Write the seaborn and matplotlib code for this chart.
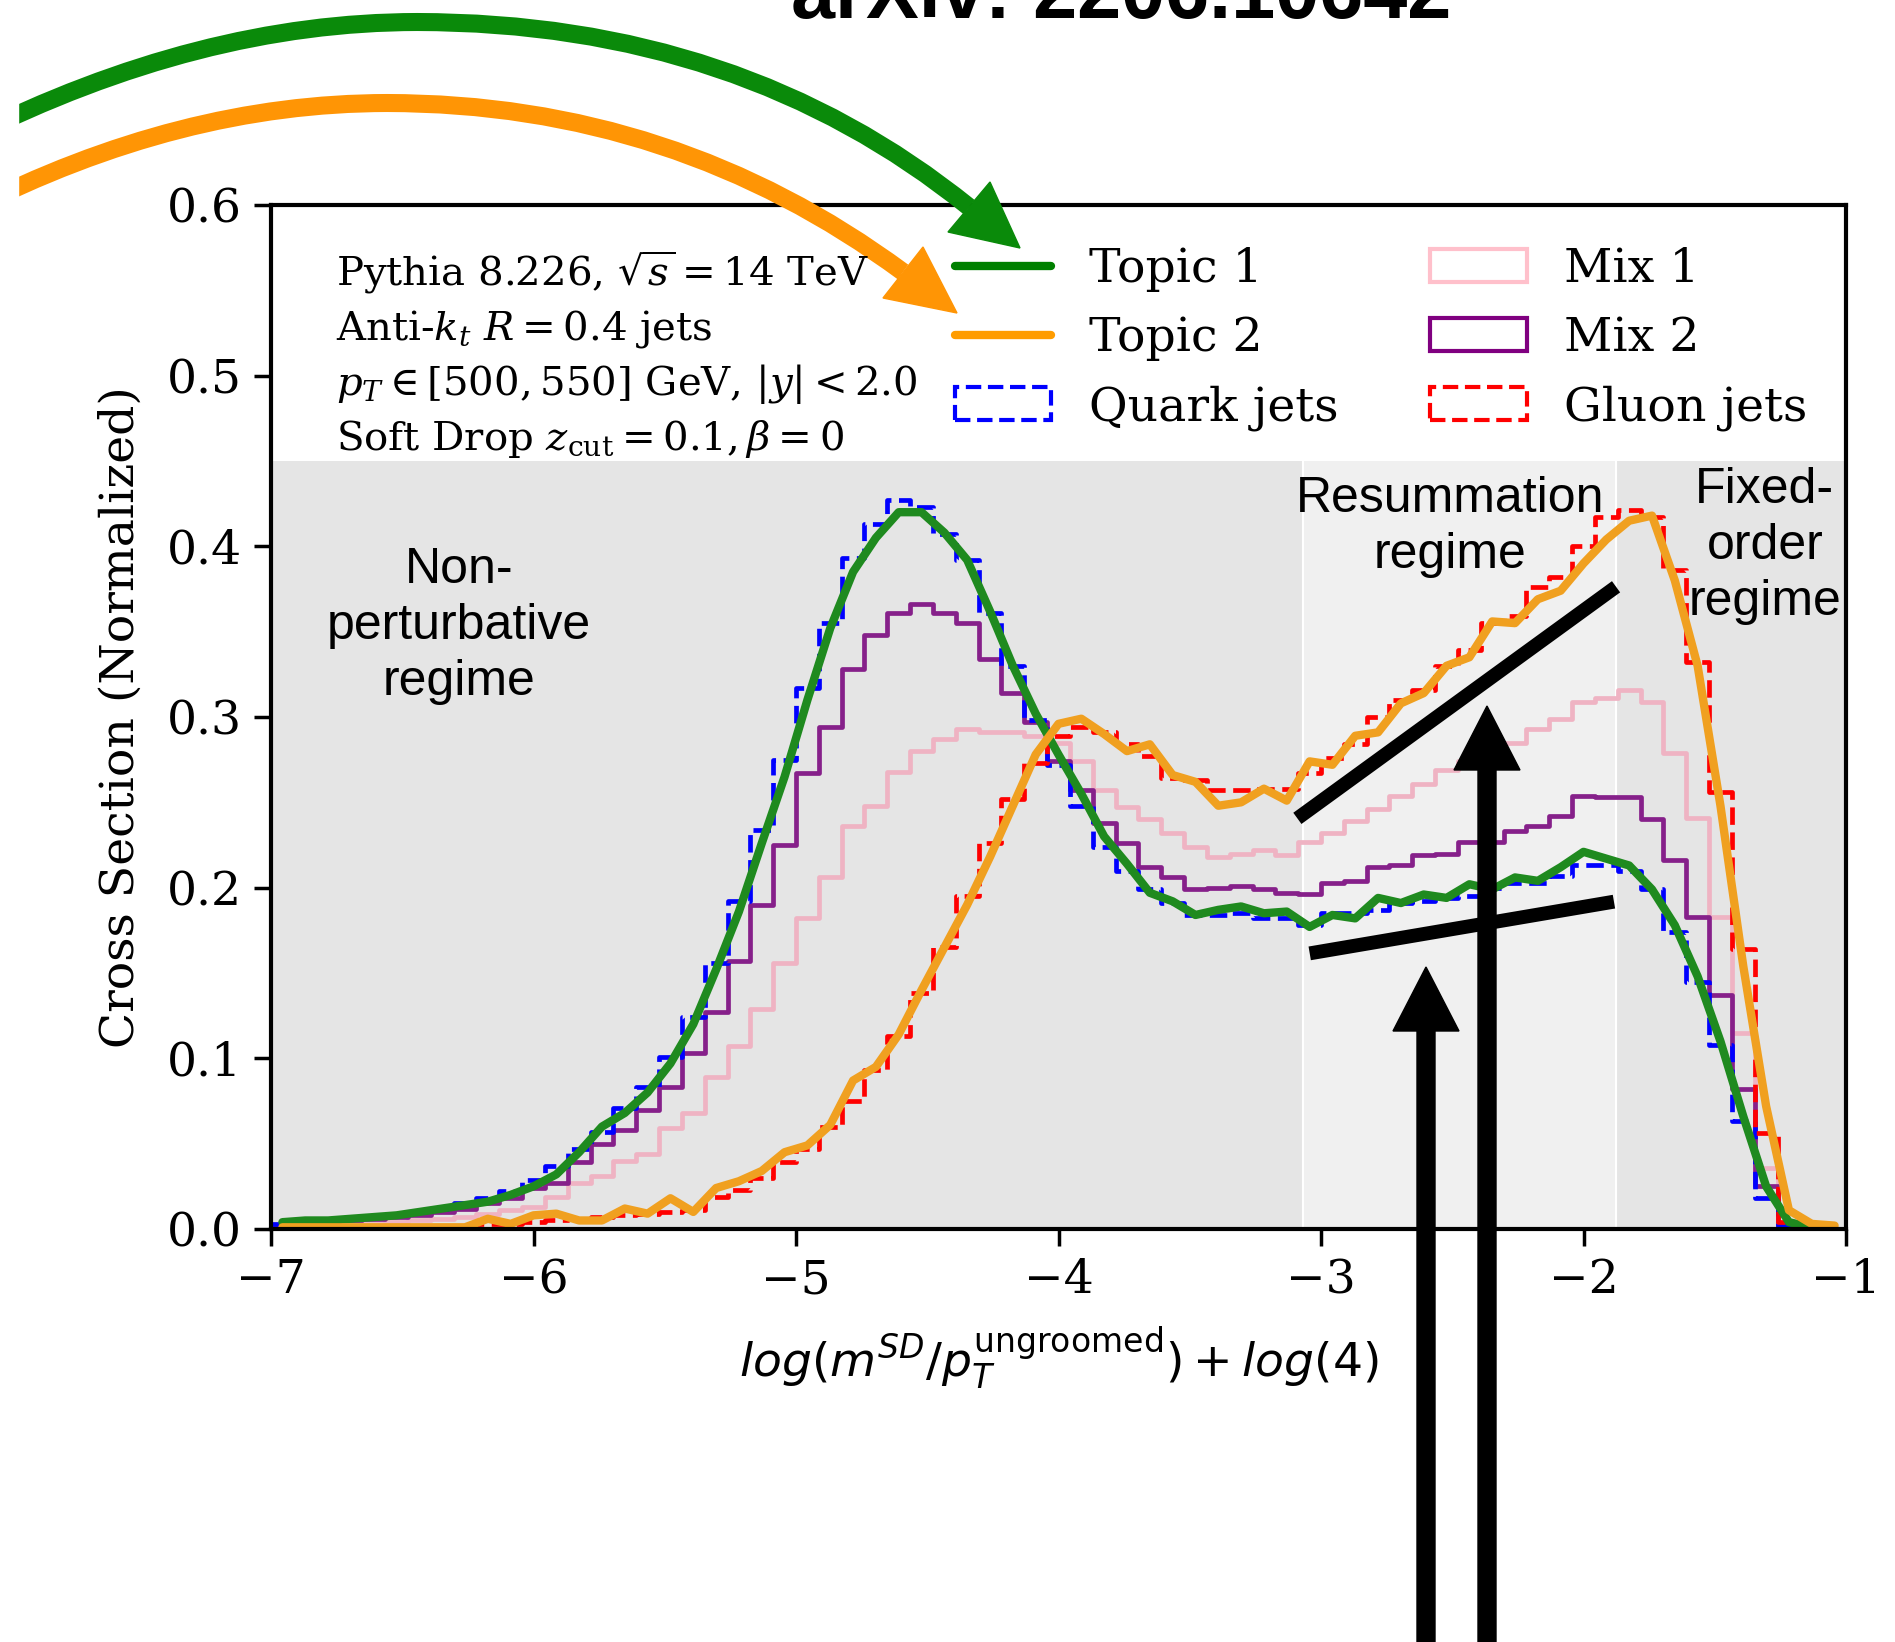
import numpy as np
import pandas as pd
import matplotlib
matplotlib.use('Agg')
import matplotlib.pyplot as plt
import seaborn as sns
from matplotlib.transforms import Affine2D
from matplotlib.path import Path
from matplotlib.patches import PathPatch, Polygon, Patch, Rectangle
from matplotlib.lines import Line2D

# bin edges of the histograms (69 bins between -7 and -1)
edges = np.linspace(-7, -1, 70)
centers = 0.5 * (edges[1:] + edges[:-1])

quark = [0.003, 0.004, 0.005, 0.006, 0.007, 0.008, 0.010, 0.012, 0.015, 0.018,
         0.022, 0.029, 0.037, 0.047, 0.057, 0.071, 0.083, 0.101, 0.124, 0.156,
         0.192, 0.234, 0.275, 0.317, 0.355, 0.393, 0.413, 0.427, 0.423, 0.407,
         0.392, 0.361, 0.330, 0.298, 0.272, 0.248, 0.224, 0.210, 0.199, 0.191,
         0.184, 0.184, 0.185, 0.182, 0.182, 0.178, 0.185, 0.185, 0.187, 0.191,
         0.192, 0.194, 0.195, 0.200, 0.203, 0.203, 0.207, 0.213, 0.213, 0.210,
         0.199, 0.174, 0.145, 0.108, 0.063, 0.018, 0.002, 0.0, 0.0]

gluon = [0.000, 0.000, 0.001, 0.001, 0.001, 0.001, 0.001, 0.002, 0.002, 0.003,
         0.003, 0.004, 0.005, 0.006, 0.007, 0.008, 0.009, 0.010, 0.011, 0.019,
         0.023, 0.030, 0.039, 0.047, 0.060, 0.075, 0.093, 0.113, 0.138, 0.165,
         0.195, 0.226, 0.252, 0.273, 0.289, 0.294, 0.291, 0.284, 0.277, 0.264,
         0.263, 0.257, 0.257, 0.258, 0.258, 0.267, 0.276, 0.284, 0.300, 0.310,
         0.316, 0.330, 0.339, 0.355, 0.359, 0.376, 0.382, 0.400, 0.417, 0.421,
         0.417, 0.386, 0.332, 0.256, 0.164, 0.056, 0.004, 0.0, 0.0]

mix1 = [0.001, 0.002, 0.002, 0.003, 0.003, 0.004, 0.005, 0.006, 0.007, 0.009,
        0.011, 0.013, 0.019, 0.027, 0.031, 0.040, 0.044, 0.059, 0.068, 0.089,
        0.107, 0.129, 0.156, 0.182, 0.206, 0.236, 0.248, 0.268, 0.280, 0.287,
        0.293, 0.291, 0.291, 0.289, 0.285, 0.274, 0.257, 0.247, 0.240, 0.232,
        0.224, 0.218, 0.220, 0.222, 0.219, 0.227, 0.232, 0.239, 0.246, 0.254,
        0.261, 0.269, 0.274, 0.281, 0.285, 0.293, 0.299, 0.309, 0.311, 0.316,
        0.309, 0.279, 0.241, 0.183, 0.115, 0.036, 0.003, 0.0, 0.0]

mix2 = [0.002, 0.003, 0.004, 0.005, 0.006, 0.007, 0.008, 0.010, 0.012, 0.015,
        0.018, 0.024, 0.027, 0.039, 0.050, 0.058, 0.070, 0.083, 0.103, 0.127,
        0.157, 0.190, 0.225, 0.267, 0.294, 0.328, 0.348, 0.361, 0.366, 0.361,
        0.355, 0.334, 0.314, 0.297, 0.274, 0.257, 0.238, 0.226, 0.212, 0.206,
        0.199, 0.200, 0.201, 0.199, 0.197, 0.196, 0.203, 0.204, 0.212, 0.213,
        0.219, 0.220, 0.227, 0.227, 0.233, 0.236, 0.242, 0.254, 0.253, 0.253,
        0.240, 0.216, 0.183, 0.137, 0.082, 0.025, 0.002, 0.0, 0.0]

topic1 = [0.004, 0.005, 0.005, 0.006, 0.007, 0.008, 0.010, 0.012, 0.014, 0.016,
          0.020, 0.025, 0.032, 0.045, 0.060, 0.068, 0.080, 0.097, 0.120, 0.152,
          0.186, 0.226, 0.265, 0.310, 0.352, 0.385, 0.405, 0.420, 0.420, 0.408,
          0.392, 0.362, 0.330, 0.302, 0.278, 0.255, 0.230, 0.214, 0.197, 0.192,
          0.184, 0.187, 0.189, 0.185, 0.186, 0.177, 0.184, 0.182, 0.194, 0.191,
          0.196, 0.194, 0.202, 0.199, 0.206, 0.204, 0.212, 0.221, 0.217, 0.213,
          0.199, 0.178, 0.148, 0.110, 0.066, 0.025, 0.004, 0.001, 0.000]

topic2 = [0.001, 0.001, 0.001, 0.001, 0.001, 0.001, 0.001, 0.001, 0.001, 0.006,
          0.003, 0.008, 0.009, 0.005, 0.005, 0.012, 0.009, 0.018, 0.010, 0.024,
          0.028, 0.034, 0.045, 0.049, 0.061, 0.087, 0.095, 0.114, 0.140, 0.165,
          0.190, 0.218, 0.248, 0.278, 0.296, 0.299, 0.290, 0.280, 0.284, 0.266,
          0.262, 0.248, 0.250, 0.258, 0.251, 0.274, 0.272, 0.289, 0.291, 0.308,
          0.314, 0.330, 0.335, 0.356, 0.355, 0.369, 0.374, 0.390, 0.404, 0.415,
          0.418, 0.380, 0.330, 0.248, 0.154, 0.072, 0.011, 0.003, 0.002]

legend_labels = ['Topic 1', 'Topic 2', 'Quark jets', 'Mix 1', 'Mix 2', 'Gluon jets']
info_lines = [r'Pythia 8.226, $\sqrt{s} = 14$ TeV',
              r'Anti-$k_t$ $R = 0.4$ jets',
              r'$p_T \in [500, 550]$ GeV, $|y| < 2.0$',
              r'Soft Drop $z_{\rm cut} = 0.1, \beta = 0$']

df = pd.DataFrame({'center': centers, 'quark': quark, 'gluon': gluon,
                   'mix1': mix1, 'mix2': mix2, 'topic1': topic1, 'topic2': topic2})
bin_list = list(edges)

sns.set_style('ticks')
plt.rcParams['font.family'] = ['DejaVu Serif']
plt.rcParams['mathtext.fontset'] = 'dejavuserif'
for key in ['text.color', 'axes.labelcolor', 'xtick.color', 'ytick.color']:
    plt.rcParams[key] = 'black'

W, H = 1895, 1642
fig = plt.figure(figsize=(W / 100, H / 100), dpi=100)
# pixel coordinates, origin at the top left corner
px = Affine2D().scale(1 / W, -1 / H).translate(0, 1) + fig.transFigure

ax = fig.add_axes([271 / W, 1 - 1229 / H, (1846 - 271) / W, (1229 - 205) / H])

# regime bands
ax.axvspan(-7, -3.07, ymax=0.75, color='#e5e5e5', lw=0, zorder=0)
ax.axvspan(-3.07, -1.876, ymax=0.75, color='#f0f0f0', lw=0, zorder=0)
ax.axvspan(-1.876, -1, ymax=0.75, color='#e5e5e5', lw=0, zorder=0)
for xb in [-3.07, -1.876]:
    ax.axvline(xb, ymax=0.75, color='white', lw=1.5, zorder=0.5)

hist_styles = [('mix1', '#efb3c3', '-'), ('mix2', '#86208a', '-'),
               ('quark', 'blue', '--'), ('gluon', 'red', '--')]
for col, c, ls in hist_styles:
    sns.histplot(data=df, x='center', weights=col, bins=bin_list, element='step',
                 fill=False, color=c, linewidth=3.4, linestyle=ls, ax=ax)
sns.lineplot(data=df, x='center', y='topic1', color='#1f8a1f', linewidth=6, ax=ax)
sns.lineplot(data=df, x='center', y='topic2', color='#f0a020', linewidth=6, ax=ax)

# slope guides
ax.plot([-3.09, -1.876], [0.2406, 0.3763], color='black', lw=10, solid_capstyle='butt', zorder=5)
ax.plot([-3.043, -1.884], [0.1615, 0.1918], color='black', lw=10, solid_capstyle='butt', zorder=5)

ax.set_xlim(-7, -1)
ax.set_ylim(0, 0.6)
ax.set_xticks(range(-7, 0))
ax.set_yticks(np.arange(0, 0.61, 0.1))
ax.yaxis.set_major_formatter(matplotlib.ticker.FormatStrFormatter('%.1f'))
ax.tick_params(direction='out', length=12, width=2.5, labelsize=34, pad=9,
               top=False, right=False)
for s in ax.spines.values():
    s.set_visible(True)
    s.set_linewidth(3)
    s.set_color('black')

ax.set_ylabel('Cross Section (Normalized)', fontsize=34)
ax.yaxis.set_label_coords(-0.081, 0.5)
ax.set_xlabel(r'$log(m^{SD}/p_T^{\mathrm{ungroomed}}) + log(4)$', fontsize=34,
              math_fontfamily='dejavusans', va='top')
ax.xaxis.set_label_coords(0.5, -0.094)

# regime labels (va='baseline' puts the last line on the given y)
sans = 'Liberation Sans'
ax.text(-6.284, 0.3129, 'Non-\nperturbative\nregime', ha='center', va='baseline',
        fontsize=36, family=sans, multialignment='center', linespacing=1.28)
ax.text(-2.509, 0.3873, 'Resummation\nregime', ha='center', va='baseline',
        fontsize=36, family=sans, multialignment='center', linespacing=1.28)
ax.text(-1.309, 0.3598, 'Fixed-\norder\nregime', ha='center', va='baseline',
        fontsize=36, family=sans, multialignment='center', linespacing=1.28)

for i, line in enumerate(info_lines):
    fig.text(336, [285, 339, 395, 450][i], line, transform=px, fontsize=29,
             va='baseline', ha='left')

handles = [Line2D([], [], color='green', lw=6),
           Line2D([], [], color='#ff9c00', lw=6),
           Patch(fill=False, edgecolor='blue', linestyle='--', lw=3),
           Patch(fill=False, edgecolor='pink', lw=3),
           Patch(fill=False, edgecolor='purple', lw=3),
           Patch(fill=False, edgecolor='red', linestyle='--', lw=3)]
ax.legend(handles, legend_labels, ncol=2, loc='upper left', bbox_to_anchor=(955, 247),
          bbox_transform=px, frameon=False, borderpad=0, borderaxespad=0,
          handlelength=2.04, handletextpad=0.79, columnspacing=1.95, labelspacing=0.5,
          prop={'family': 'DejaVu Serif', 'size': 34})

# title cut off at the top of the screenshot
fig.text(1121, 18, 'arXiv: 2206.10642', transform=px, ha='center', va='baseline',
         fontsize=57, fontweight='bold', family=sans)

# curved arrows pointing to the topic legend entries
C3 = Path.CURVE3
arcs = [('#0a8a0a', [(-30, 137), (200, 22), (417, 22), (740, 22), (969, 207)],
         [(1020, 248), (990, 182), (948, 232)]),
        ('#ff9505', [(-30, 210), (180, 103), (387, 103), (674, 103), (903, 272)],
         [(957, 313), (923, 247), (883, 298)])]
for col, verts, head in arcs:
    path = Path(verts, [Path.MOVETO, C3, C3, C3, C3])
    fig.add_artist(PathPatch(path, fill=False, edgecolor=col, lw=13,
                             capstyle='butt', transform=px))
    fig.add_artist(Polygon(head, closed=True, color=col, transform=px))
fig.add_artist(Rectangle((0, 0), 18, H, color='white', transform=px, zorder=3))

# vertical arrows from the bottom
for xc, base, tip in [(1426, 1031, 967), (1487, 770, 706)]:
    verts = [(xc - 9, 1660), (xc - 9, base), (xc - 33, base), (xc, tip),
             (xc + 33, base), (xc + 9, base), (xc + 9, 1660)]
    fig.add_artist(Polygon(verts, closed=True, color='black', transform=px, zorder=4))

fig.savefig('out.png', dpi=100)
